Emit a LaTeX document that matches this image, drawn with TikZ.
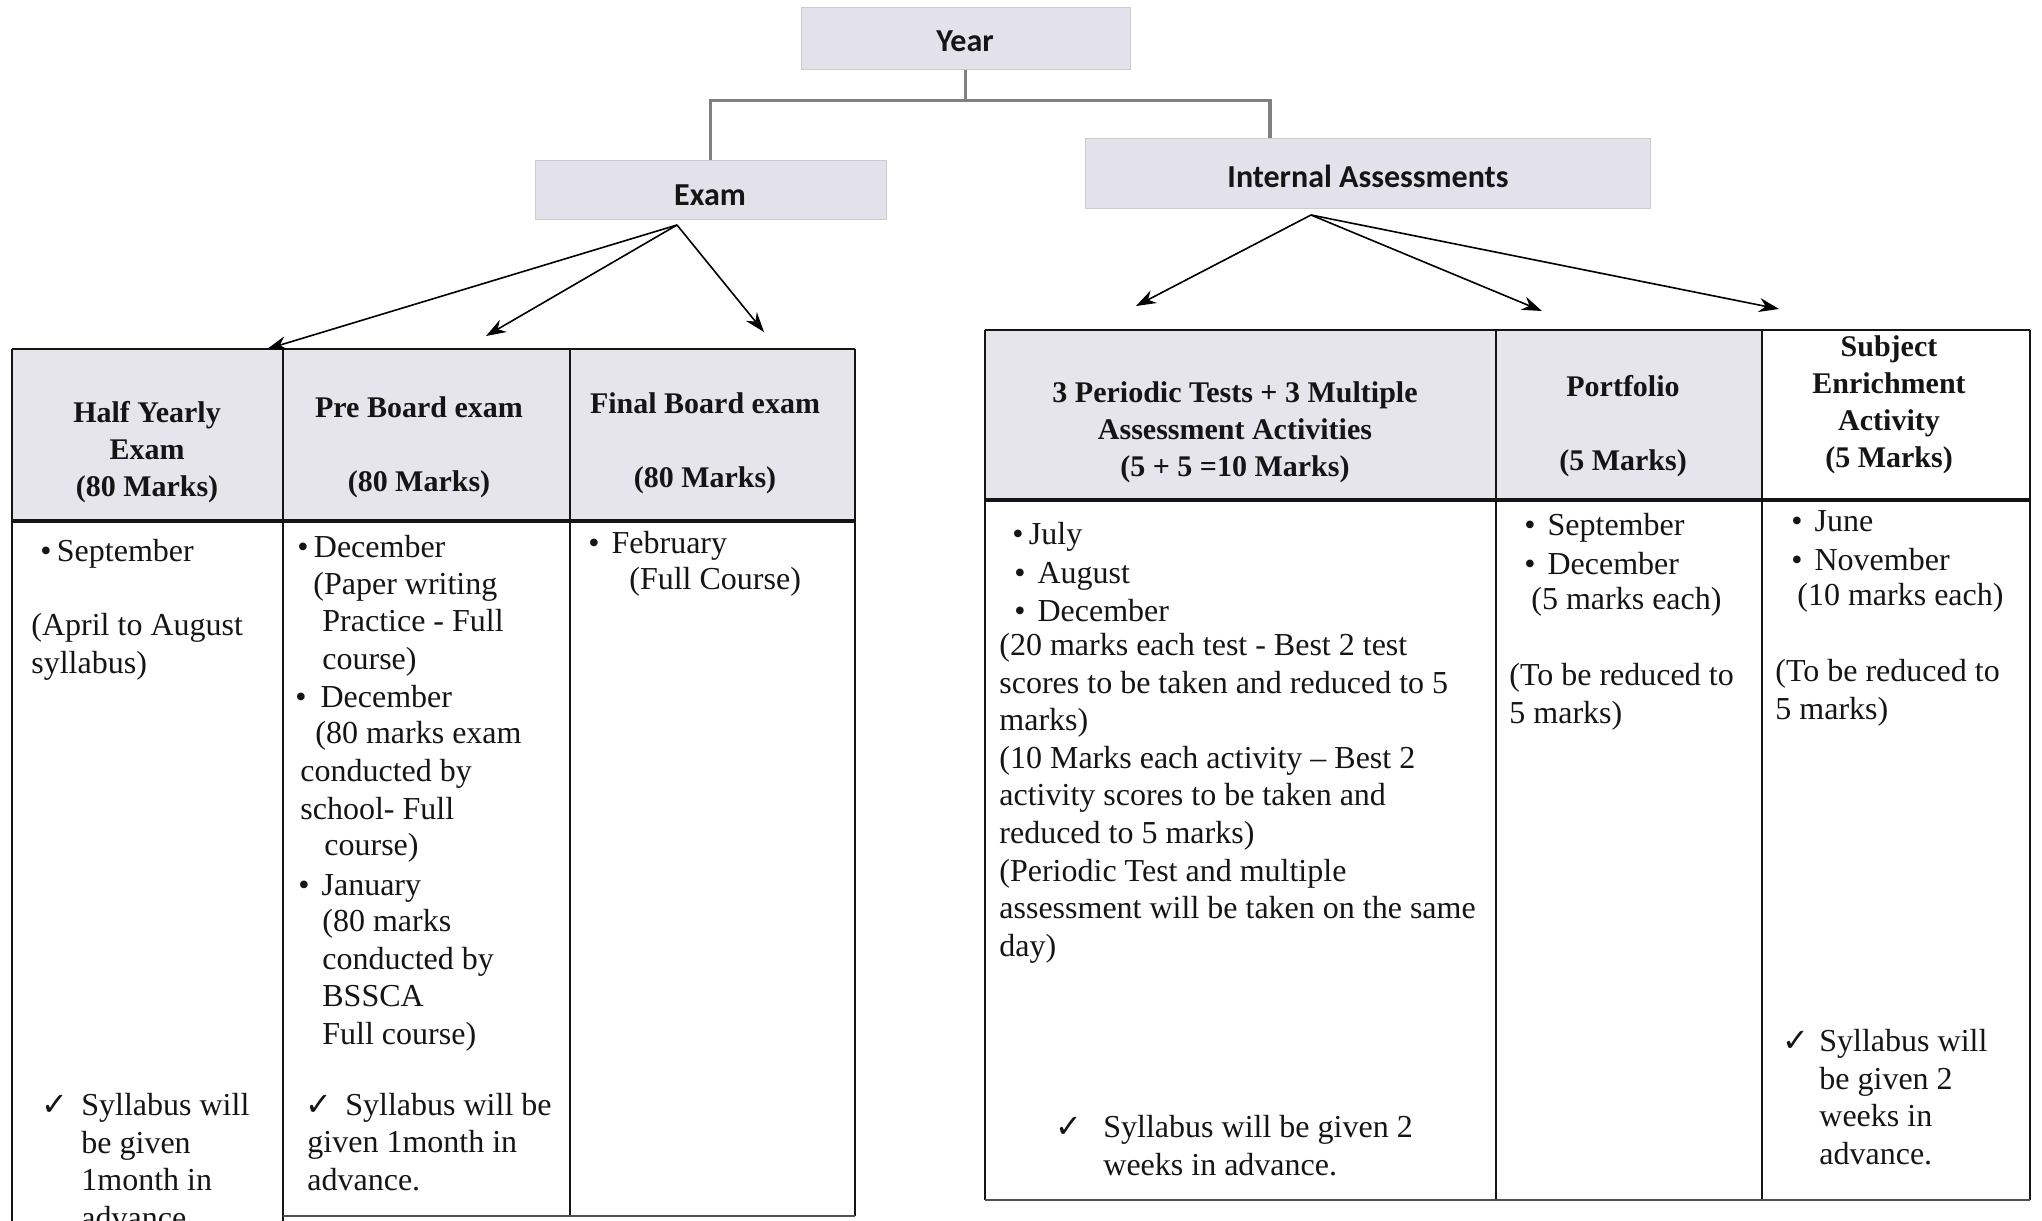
\documentclass[tikz,border=0pt]{standalone}
\usepackage{fontspec}
\setmainfont{Liberation Serif}
\newfontfamily\boxfont{Carlito}
\newfontfamily\symfont{DejaVu Sans}
\usetikzlibrary{arrows.meta}
\definecolor{boxfill}{HTML}{E3E2EA}
\definecolor{hdfill}{HTML}{E6E5EC}
\definecolor{ink}{HTML}{151515}
\definecolor{treegray}{HTML}{808080}
\begin{document}
\begin{tikzpicture}[x=0.5pt,y=-0.5pt,
  tbox/.style={fill=boxfill, draw=gray!40, line width=0.5pt, inner sep=0pt},
  tlabel/.style={font=\boxfont\bfseries\fontsize{16}{19}\selectfont, text=ink, inner sep=0pt},
  body/.style={anchor=base west, inner sep=0pt, align=left, text=ink,
    font=\fontsize{16}{18.8}\selectfont},
  mbody/.style={body, anchor=north west, yshift=13.16pt},
  chk/.style={anchor=base west, inner sep=0pt, text=ink,
    font=\symfont\fontsize{16}{18}\selectfont},
  hd/.style={align=center, inner sep=0pt, text=ink,
    font=\bfseries\fontsize{15}{18.5}\selectfont},
  tree/.style={draw=treegray, line width=1.6pt},
  arr/.style={draw=black, line width=0.8pt, -{Stealth[length=10pt,width=7pt]}},
  gridline/.style={draw=ink, line width=0.9pt},
  thickline/.style={draw=ink, line width=1.6pt},
]
\useasboundingbox (0,0) rectangle (2042,1221);
\fill[white] (0,0) rectangle (2042,1221);

% ---------- tree boxes ----------
\node[tbox, minimum width=164.5pt, minimum height=31pt] (year) at (965.5,38) {};
\node[tlabel] (yeart) at (965,41) {Year};
\node[tbox, minimum width=175.5pt, minimum height=29.5pt] (exam) at (710.5,189.5) {};
\node[tlabel] (examt) at (710,195) {Exam};
\node[tbox, minimum width=282.5pt, minimum height=35pt] (ia) at (1367.5,173) {};
\node[tlabel] (iat) at (1368,176) {Internal Assessments};

\draw[tree] (year.south) -- ++(0,31) coordinate (yj);
\draw[tree] (exam.north) |- (yj) -| ([xshift=-48.75pt]ia.north);

% ---------- left table ----------
\fill[hdfill] (12,349) rectangle (855,521);
\draw[gridline] (12,349) -- (855,349);
\draw[gridline] (12,349) -- (12,1221);
\draw[gridline] (283,349) -- (283,1221);
\draw[gridline] (570,349) -- (570,1216);
\draw[gridline] (855,349) -- (855,1216);
\draw[gridline, draw=ink!75] (283,1216) -- (855,1216);
\draw[thickline] (12,521) -- (855,521);

\node[hd] (h1) at (147,452) {Half Yearly\\Exam\\(80 Marks)};
\node[hd] (h2) at (419,447) {Pre Board exam\\[18.5pt](80 Marks)};
\node[hd] (h3) at (705,443.5) {Final Board exam\\[18.5pt](80 Marks)};

% arrows from Exam
\coordinate (exsrc) at (677,225);
\coordinate (e1) at (267,349);
\coordinate (e2) at (486,336);
\coordinate (e3) at (764,332);
\draw[arr] (exsrc) -- (e1);
\draw[arr] (exsrc) -- (e2);
\draw[arr] (exsrc) -- (e3);

% column 1 body
\node[body] (a1) at (40,561) {•\,September};
\node[mbody] (a2) at (31,635) {\strut(April to August\\syllabus)};
\node[chk] (a3) at (41,1115) {✓};
\node[mbody] (a4) at (81,1115) {\strut Syllabus will\\be given\\1month in\\advance.};

% column 2 body
\node[body] (b1) at (297,557) {•\,December};
\node[body] (b2) at (313,594) {(Paper writing};
\node[body] (b3) at (322,631) {Practice - Full};
\node[body] (b4) at (322,669) {course)};
\node[body] (b5) at (295,707) {•\hspace{7pt}December};
\node[body] (b6) at (315,743) {(80 marks exam};
\node[mbody] (b7) at (300,781) {\strut conducted by\\school- Full};
\node[body] (b8) at (324,855) {course)};
\node[body] (b9) at (298,895) {•\hspace{6pt}January};
\node[mbody] (b10) at (322,931) {\strut(80 marks\\conducted by\\BSSCA\\Full course)};
\node[chk] (b11) at (305,1115) {✓};
\node[body] (b12) at (345,1115) {Syllabus will be};
\node[mbody] (b13) at (307,1152) {\strut given 1month in\\advance.};

% column 3 body
\node[body] (c1) at (588,553) {•\hspace{6pt}February};
\node[body] (c2) at (629,589) {(Full Course)};

% ---------- right table ----------
\fill[hdfill] (985,330) rectangle (1762,500);
\draw[gridline] (985,330) -- (2030,330);
\draw[gridline] (985,330) -- (985,1200);
\draw[gridline] (1496,330) -- (1496,1200);
\draw[gridline] (1762,330) -- (1762,1200);
\draw[gridline] (2030,330) -- (2030,1200);
\draw[gridline, draw=ink!75] (985,1200) -- (2030,1200);
\draw[thickline] (985,500) -- (2030,500);

\node[hd] (hA) at (1235,432) {3 Periodic Tests + 3 Multiple\\Assessment Activities\\(5 + 5 =10 Marks)};
\node[hd] (hB) at (1623,426.5) {Portfolio\\[18.5pt](5 Marks)};
\node[hd] (hC) at (1889,405) {Subject\\Enrichment\\Activity\\(5 Marks)};

% arrows from Internal Assessments
\coordinate (iasrc) at (1311,215);
\coordinate (i1) at (1136,306);
\coordinate (i2) at (1542,311);
\coordinate (i3) at (1779,309);
\draw[arr] (iasrc) -- (i1);
\draw[arr] (iasrc) -- (i2);
\draw[arr] (iasrc) -- (i3);

% column A body
\node[body] (d1) at (1012,544) {•\,July};
\node[body] (d2) at (1014,583) {•\hspace{6pt}August};
\node[body] (d3) at (1014,621) {•\hspace{6pt}December};
\node[mbody] (d4) at (999,655) {\strut(20 marks each test - Best 2 test\\scores to be taken and reduced to 5\\marks)\\(10 Marks each activity -- Best 2\\activity scores to be taken and\\reduced to 5 marks)\\(Periodic Test and multiple\\assessment will be taken on the same\\day)};
\node[chk] (d5) at (1055,1137) {✓};
\node[mbody] (d6) at (1103,1137) {\strut Syllabus will be given 2\\weeks in advance.};

% column B body
\node[body] (f1) at (1524,535) {•\hspace{6pt}September};
\node[body] (f2) at (1524,574) {•\hspace{6pt}December};
\node[body] (f3) at (1531,609) {(5 marks each)};
\node[mbody] (f4) at (1509,685) {\strut(To be reduced to\\5 marks)};

% column C body
\node[body] (g1) at (1791,531) {•\hspace{6pt}June};
\node[body] (g2) at (1791,570) {•\hspace{6pt}November};
\node[body] (g3) at (1797,605) {(10 marks each)};
\node[mbody] (g4) at (1775,681) {\strut(To be reduced to\\5 marks)};
\node[chk] (g5) at (1782,1051) {✓};
\node[mbody] (g6) at (1819,1051) {\strut Syllabus will\\be given 2\\weeks in\\advance.};
\end{tikzpicture}
\end{document}
